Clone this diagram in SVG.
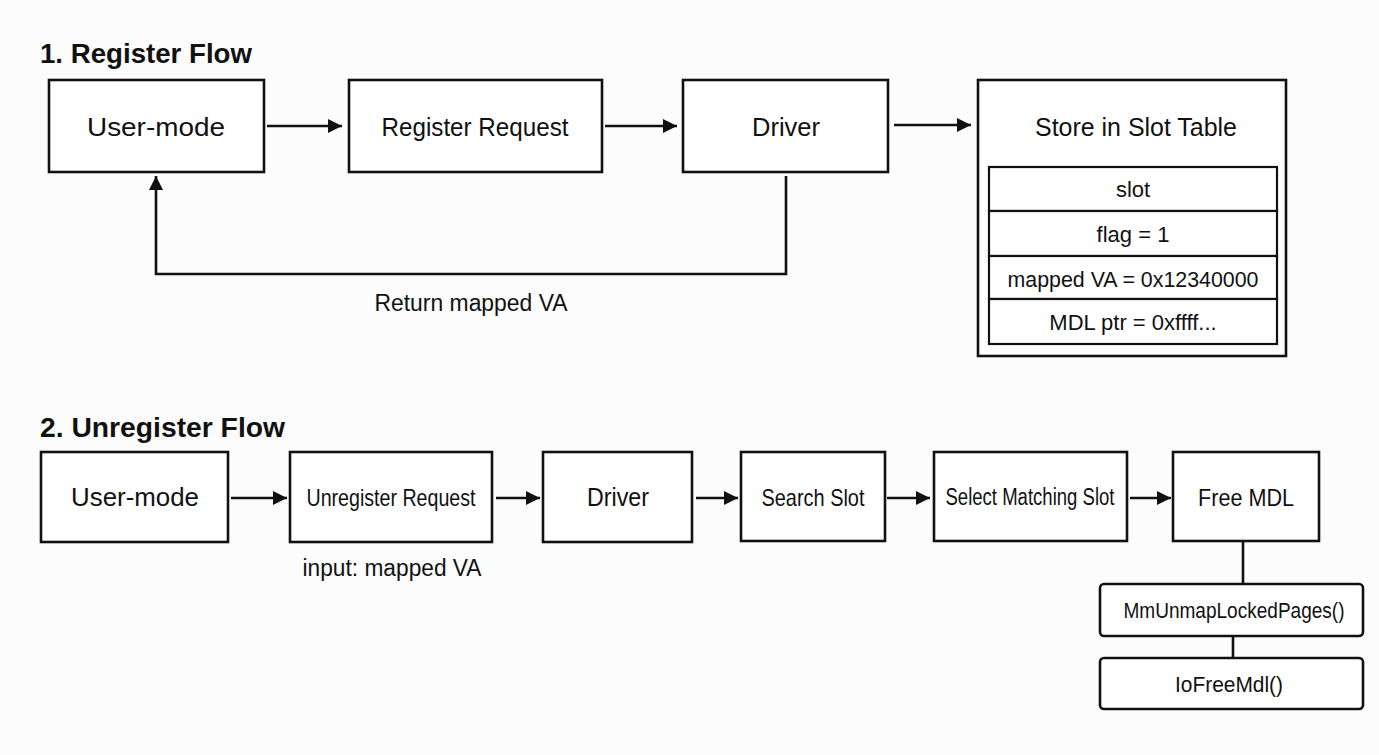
<svg xmlns="http://www.w3.org/2000/svg" width="1379" height="755" viewBox="0 0 1379 755">
<style>
.bg{fill:#fcfcfc}
.box{fill:#ffffff;stroke:#111;stroke-width:2.6}
.cell{fill:#ffffff;stroke:#111;stroke-width:2.2}
.ln{fill:none;stroke:#111;stroke-width:2.6}
.t{font-family:"Liberation Sans",Arial,sans-serif;fill:#111;text-anchor:middle}
.title{font-family:"Liberation Sans",Arial,sans-serif;font-weight:bold;fill:#111;font-size:27px}
.n{font-size:25px}
.s{font-size:22px}
</style>
<defs>
<marker id="ah" markerUnits="userSpaceOnUse" markerWidth="14" markerHeight="14" refX="14" refY="7" orient="auto">
<path d="M0,0 L14,7 L0,14 z" fill="#111"/>
</marker>
</defs>
<rect class="bg" x="0" y="0" width="1379" height="755"/>

<text class="title" x="40" y="63" textLength="212" lengthAdjust="spacingAndGlyphs">1. Register Flow</text>
<text class="title" x="40" y="437" textLength="245" lengthAdjust="spacingAndGlyphs">2. Unregister Flow</text>

<g id="connectors">
<line class="ln" x1="267" y1="126" x2="342" y2="126" marker-end="url(#ah)"/>
<line class="ln" x1="605" y1="126" x2="677" y2="126" marker-end="url(#ah)"/>
<line class="ln" x1="894" y1="125" x2="971" y2="125" marker-end="url(#ah)"/>
<polyline class="ln" points="786,176 786,274 156,274 156,176" marker-end="url(#ah)"/>
<line class="ln" x1="231" y1="498" x2="287" y2="498" marker-end="url(#ah)"/>
<line class="ln" x1="496" y1="498" x2="540" y2="498" marker-end="url(#ah)"/>
<line class="ln" x1="696" y1="498" x2="738" y2="498" marker-end="url(#ah)"/>
<line class="ln" x1="887" y1="498" x2="930" y2="498" marker-end="url(#ah)"/>
<line class="ln" x1="1130" y1="498" x2="1171" y2="498" marker-end="url(#ah)"/>
<line class="ln" x1="1243" y1="542" x2="1243" y2="584"/>
<line class="ln" x1="1233" y1="636" x2="1233" y2="658"/>
</g>

<text class="t" x="471" y="311" font-size="23" textLength="193" lengthAdjust="spacingAndGlyphs">Return mapped VA</text>
<text class="t" x="392" y="576" font-size="23" textLength="179" lengthAdjust="spacingAndGlyphs">input: mapped VA</text>

<g id="r-user">
<rect class="box" x="49" y="80" width="215" height="92"/>
<text class="t n" x="156" y="136" textLength="138" lengthAdjust="spacingAndGlyphs">User-mode</text>
</g>
<g id="r-request">
<rect class="box" x="349" y="80" width="253" height="92"/>
<text class="t n" x="475" y="136" textLength="187" lengthAdjust="spacingAndGlyphs">Register Request</text>
</g>
<g id="r-driver">
<rect class="box" x="683" y="80" width="205" height="92"/>
<text class="t n" x="786" y="136" textLength="68" lengthAdjust="spacingAndGlyphs">Driver</text>
</g>
<g id="r-store">
<rect class="box" x="978" y="80" width="308" height="276"/>
<text class="t n" x="1136" y="136" textLength="202" lengthAdjust="spacingAndGlyphs">Store in Slot Table</text>
<rect class="cell" x="989" y="167" width="288" height="44"/>
<rect class="cell" x="989" y="211" width="288" height="45"/>
<rect class="cell" x="989" y="256" width="288" height="43"/>
<rect class="cell" x="989" y="299" width="288" height="45"/>
<text class="t s" x="1133" y="197">slot</text>
<text class="t s" x="1133" y="242">flag = 1</text>
<text class="t s" x="1133" y="287" textLength="251" lengthAdjust="spacingAndGlyphs">mapped VA = 0x12340000</text>
<text class="t s" x="1133" y="330">MDL ptr = 0xffff...</text>
</g>

<g id="u-user">
<rect class="box" x="41" y="452" width="187" height="90"/>
<text class="t n" x="135" y="506" textLength="128" lengthAdjust="spacingAndGlyphs">User-mode</text>
</g>
<g id="u-request">
<rect class="box" x="290" y="452" width="202" height="90"/>
<text class="t" x="391" y="506" font-size="24" textLength="169" lengthAdjust="spacingAndGlyphs">Unregister Request</text>
</g>
<g id="u-driver">
<rect class="box" x="543" y="452" width="149" height="90"/>
<text class="t n" x="618" y="506" textLength="62" lengthAdjust="spacingAndGlyphs">Driver</text>
</g>
<g id="u-search">
<rect class="box" x="741" y="452" width="144" height="89"/>
<text class="t" x="813" y="506" font-size="24" textLength="103" lengthAdjust="spacingAndGlyphs">Search Slot</text>
</g>
<g id="u-select">
<rect class="box" x="934" y="452" width="193" height="89"/>
<text class="t" x="1030" y="505" font-size="23" textLength="169" lengthAdjust="spacingAndGlyphs">Select Matching Slot</text>
</g>
<g id="u-free">
<rect class="box" x="1173" y="452" width="146" height="89"/>
<text class="t" x="1246" y="506" font-size="24" textLength="96" lengthAdjust="spacingAndGlyphs">Free MDL</text>
</g>
<g id="u-unmap">
<rect class="box" x="1100" y="584" width="263" height="52" rx="4"/>
<text class="t" x="1234" y="618" font-size="22" textLength="221" lengthAdjust="spacingAndGlyphs">MmUnmapLockedPages()</text>
</g>
<g id="u-iofree">
<rect class="box" x="1100" y="658" width="263" height="51" rx="4"/>
<text class="t" x="1229" y="692" font-size="22" textLength="108" lengthAdjust="spacingAndGlyphs">IoFreeMdl()</text>
</g>
</svg>
